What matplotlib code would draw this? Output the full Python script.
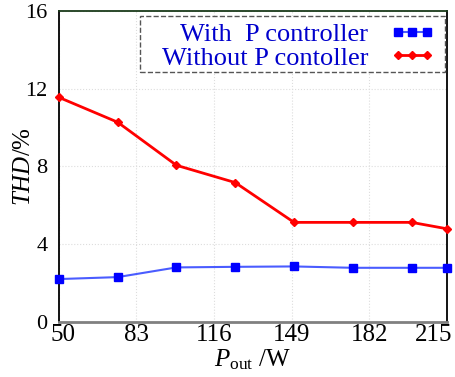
import matplotlib
matplotlib.use("Agg")
import matplotlib.pyplot as plt
from matplotlib.patches import Rectangle
from matplotlib.transforms import ScaledTranslation

plt.rcParams['font.family'] = 'Liberation Serif'
plt.rcParams['mathtext.fontset'] = 'custom'
plt.rcParams['mathtext.rm'] = 'Liberation Serif'
plt.rcParams['mathtext.it'] = 'Liberation Serif:italic'

power = [50, 75, 100, 125, 150, 175, 200, 215]
thd_with = [2.19, 2.29, 2.79, 2.82, 2.84, 2.77, 2.77, 2.77]
thd_without = [11.55, 10.27, 8.05, 7.16, 5.11, 5.11, 5.11, 4.78]
xticks = [50, 83, 116, 149, 182, 215]
yticks = [0, 4, 8, 12, 16]

fig = plt.figure(figsize=(4.56, 3.77), dpi=100)
ax = fig.add_axes([0.129, 0.147, 0.851, 0.824])

ax.plot(power, thd_with, color='#4a5cff', lw=1.5, marker='s', ms=6,
        mfc='blue', mec='blue', label='With  P controller', clip_on=False, zorder=3)
ax.plot(power, thd_without, color='red', lw=2, marker='D', ms=4.5,
        mfc='red', mec='red', label='Without P contoller', clip_on=False, zorder=3)

ax.set_xlim(50, 215)
ax.set_ylim(0, 16)
ax.set_xticks(xticks)
ax.set_yticks(yticks)
ax.tick_params(length=0)
ax.tick_params(axis='x', labelsize=18, pad=2)
ax.tick_params(axis='y', labelsize=16, pad=8)
ax.grid(True, color='#dddddd', lw=0.8, ls=':')

# nudge the end labels inward like the reference
labels = ax.get_xticklabels()
labels[0].set_transform(labels[0].get_transform() + ScaledTranslation(4.5 / 100, 0, fig.dpi_scale_trans))
labels[-1].set_transform(labels[-1].get_transform() + ScaledTranslation(-13 / 100, 0, fig.dpi_scale_trans))

for s in ['left', 'right']:
    ax.spines[s].set_color('black')
    ax.spines[s].set_linewidth(1.3)
ax.spines['top'].set_color('#1a3a1a')
ax.spines['top'].set_linewidth(1.3)
ax.spines['bottom'].set_color('#808080')
ax.spines['bottom'].set_linewidth(2)

ax.set_xlabel(r'$P_{\mathrm{out}}$ /W', fontsize=18, labelpad=1)
ax.set_ylabel(r'$\mathit{THD}$/%', fontsize=18)
ax.yaxis.set_label_coords(-0.062, 0.5)

# legend: dashed frame drawn separately so padding matches the original
ax.add_patch(Rectangle((0.209, 0.804), 0.786, 0.180, transform=ax.transAxes,
                       fill=True, fc='white', ec='#555555', ls='--', lw=1, zorder=4))
leg = ax.legend(loc='upper right', bbox_to_anchor=(0.969, 0.962), fontsize=19,
                markerfirst=False, frameon=False, numpoints=3, markerscale=0.85,
                handlelength=1.7, borderpad=0, labelspacing=0.0,
                handletextpad=0.83, borderaxespad=0)
leg.set_zorder(5)
for t in leg.get_texts():
    t.set_color('#0000cc')

fig.savefig('out.png', dpi=100)
